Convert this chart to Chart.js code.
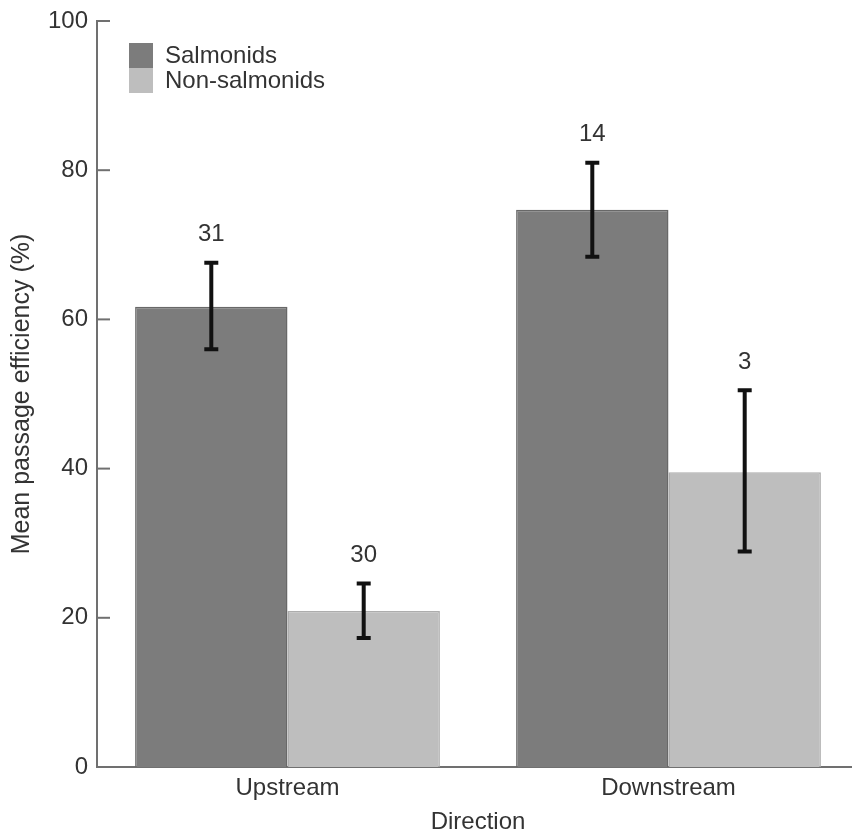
<!DOCTYPE html>
<html>
<head>
<meta charset="utf-8">
<script src="https://cdn.jsdelivr.net/npm/chart.js@4"></script>
<style>
  html, body { margin: 0; background: #fff; overflow: hidden; }
  #wrap { width: 852px; height: 832px; overflow: hidden; }
</style>
</head>
<body>
<div id="wrap"><canvas id="myChart" width="859" height="832"></canvas></div>
<script>
// data
const directions = ['Upstream', 'Downstream'];
const salmonids = [61.7, 74.7];
const nonSalmonids = [20.9, 39.5];
const salmonidsLow = [56.0, 68.4];
const salmonidsHigh = [67.6, 81.0];
const nonSalmonidsLow = [17.3, 28.9];
const nonSalmonidsHigh = [24.6, 50.5];
const salmonidsN = [31, 14];
const nonSalmonidsN = [30, 3];
const yTicks = [0, 20, 40, 60, 80, 100];

const FONT = '"Liberation Sans", Arial, sans-serif';
const TEXT = '#333';
const AXIS = '#707070';

const errors = [
  { low: salmonidsLow, high: salmonidsHigh, n: salmonidsN },
  { low: nonSalmonidsLow, high: nonSalmonidsHigh, n: nonSalmonidsN }
];

// error bars + sample sizes above them
const errorBars = {
  id: 'errorBars',
  afterDatasetsDraw(chart) {
    const c = chart.ctx;
    const y = chart.scales.y;
    c.save();
    chart.data.datasets.forEach((ds, i) => {
      const meta = chart.getDatasetMeta(i);
      meta.data.forEach((bar, j) => {
        const x = bar.x;
        const top = y.getPixelForValue(errors[i].high[j]);
        const bot = y.getPixelForValue(errors[i].low[j]);
        c.strokeStyle = '#111';
        c.lineWidth = 4;
        c.beginPath();
        c.moveTo(x, top); c.lineTo(x, bot);
        c.moveTo(x - 7, top); c.lineTo(x + 7, top);
        c.moveTo(x - 7, bot); c.lineTo(x + 7, bot);
        c.stroke();
        c.fillStyle = TEXT;
        c.font = '24px ' + FONT;
        c.textAlign = 'center';
        c.textBaseline = 'middle';
        c.fillText(String(errors[i].n[j]), x, top - 28);
      });
    });
    c.restore();
  }
};

// inward ticks on the y axis and legend inside the plot
const extras = {
  id: 'extras',
  afterDraw(chart) {
    const c = chart.ctx;
    const y = chart.scales.y;
    const area = chart.chartArea;
    c.save();
    c.strokeStyle = AXIS;
    c.lineWidth = 2;
    yTicks.forEach(v => {
      const py = y.getPixelForValue(v);
      c.beginPath();
      c.moveTo(area.left, py);
      c.lineTo(area.left + 13, py);
      c.stroke();
    });
    chart.data.datasets.forEach((ds, i) => {
      const bx = area.left + 32;
      const by = area.top + 22 + i * 25;
      c.fillStyle = ds.backgroundColor;
      c.fillRect(bx, by, 24, 25);
      c.fillStyle = TEXT;
      c.font = '24px ' + FONT;
      c.textAlign = 'left';
      c.textBaseline = 'middle';
      c.fillText(ds.label, bx + 36, by + 13);
    });
    c.restore();
  }
};

const ctx = document.getElementById('myChart');
new Chart(ctx, {
  type: 'bar',
  data: {
    labels: directions,
    datasets: [
      {
        label: 'Salmonids',
        data: salmonids,
        backgroundColor: '#7c7c7c',
        borderColor: '#686868',
        borderWidth: 1.5
      },
      {
        label: 'Non-salmonids',
        data: nonSalmonids,
        backgroundColor: '#bebebe',
        borderColor: '#adadad',
        borderWidth: 1.5
      }
    ]
  },
  options: {
    responsive: false,
    animation: false,
    layout: { padding: { top: 20, right: 0, left: 0, bottom: 0 } },
    plugins: {
      legend: { display: false },
      tooltip: { enabled: false }
    },
    datasets: {
      bar: { categoryPercentage: 0.8, barPercentage: 1.0 }
    },
    scales: {
      x: {
        grid: { display: false, drawTicks: false },
        border: { color: AXIS, width: 2 },
        ticks: { color: TEXT, font: { family: FONT, size: 24 }, padding: 7 },
        title: {
          display: true,
          text: 'Direction',
          color: TEXT,
          font: { family: FONT, size: 24, lineHeight: 1 },
          padding: { top: 0, bottom: -2 }
        },
        afterFit(scale) { scale.height = 65; }
      },
      y: {
        min: 0,
        max: 100,
        afterBuildTicks(scale) { scale.ticks = yTicks.map(v => ({ value: v })); },
        grid: { display: false, drawTicks: false },
        border: { color: AXIS, width: 2 },
        ticks: { color: TEXT, font: { family: FONT, size: 24, lineHeight: 1 }, padding: 9 },
        title: {
          display: true,
          text: 'Mean passage efficiency (%)',
          color: TEXT,
          font: { family: FONT, size: 25 },
          padding: { top: 7, bottom: 0 }
        },
        afterFit(scale) { scale.width = 97; }
      }
    }
  },
  plugins: [errorBars, extras]
});
</script>
</body>
</html>
